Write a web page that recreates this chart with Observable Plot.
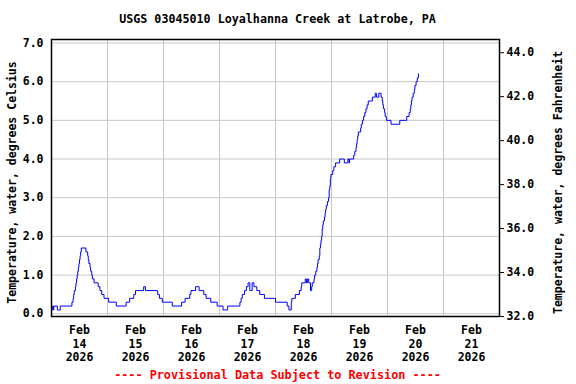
<!DOCTYPE html>
<html><head><meta charset="utf-8">
<script src="https://cdn.jsdelivr.net/npm/d3@7"></script>
<script src="https://cdn.jsdelivr.net/npm/@observablehq/plot@0.6"></script>
<style>html,body{margin:0;padding:0;background:#fff} svg{display:block}</style>
</head><body><div id="chart"></div>
<script>
const title = "USGS 03045010 Loyalhanna Creek at Latrobe, PA";
const footer = "---- Provisional Data Subject to Revision ----";
const yLabelLeft = "Temperature, water, degrees Celsius";
const yLabelRight = "Temperature, water, degrees Fahrenheit";

// 15-minute readings (only the instants where the value changes), UTC-naive local time
const times = [
"2026-02-14T00:00","2026-02-14T00:30","2026-02-14T00:45","2026-02-14T01:00","2026-02-14T02:30","2026-02-14T03:45",
"2026-02-14T08:45","2026-02-14T09:15","2026-02-14T09:30","2026-02-14T09:45","2026-02-14T10:15","2026-02-14T10:30",
"2026-02-14T10:45","2026-02-14T11:00","2026-02-14T11:15","2026-02-14T11:30","2026-02-14T11:45","2026-02-14T12:00",
"2026-02-14T12:15","2026-02-14T12:30","2026-02-14T12:45","2026-02-14T14:45","2026-02-14T15:30","2026-02-14T15:45",
"2026-02-14T16:00","2026-02-14T16:30","2026-02-14T16:45","2026-02-14T17:15","2026-02-14T17:30","2026-02-14T18:15",
"2026-02-14T20:00","2026-02-14T20:45","2026-02-14T21:30","2026-02-14T22:30","2026-02-15T00:30","2026-02-15T03:45",
"2026-02-15T08:00","2026-02-15T09:30","2026-02-15T11:15","2026-02-15T12:00","2026-02-15T15:30","2026-02-15T16:15",
"2026-02-15T21:30","2026-02-15T22:15","2026-02-15T23:30","2026-02-16T03:45","2026-02-16T07:45","2026-02-16T09:15",
"2026-02-16T11:15","2026-02-16T11:45","2026-02-16T13:45","2026-02-16T15:15","2026-02-16T17:15","2026-02-16T18:15",
"2026-02-16T20:15","2026-02-16T23:00","2026-02-17T01:30","2026-02-17T03:30","2026-02-17T08:45","2026-02-17T09:15",
"2026-02-17T09:45","2026-02-17T10:45","2026-02-17T11:30","2026-02-17T12:15","2026-02-17T13:00","2026-02-17T14:00",
"2026-02-17T14:45","2026-02-17T16:00","2026-02-17T17:15","2026-02-17T19:15","2026-02-18T00:00","2026-02-18T05:00",
"2026-02-18T05:45","2026-02-18T06:45","2026-02-18T07:00","2026-02-18T08:30","2026-02-18T10:15","2026-02-18T11:00",
"2026-02-18T11:15","2026-02-18T12:45","2026-02-18T13:15","2026-02-18T13:45","2026-02-18T14:15","2026-02-18T15:00",
"2026-02-18T15:30","2026-02-18T15:45","2026-02-18T16:30","2026-02-18T16:45","2026-02-18T17:15","2026-02-18T17:45",
"2026-02-18T18:00","2026-02-18T18:15","2026-02-18T18:45","2026-02-18T19:00","2026-02-18T19:15","2026-02-18T19:30",
"2026-02-18T19:45","2026-02-18T20:00","2026-02-18T20:15","2026-02-18T20:30","2026-02-18T21:00","2026-02-18T21:15",
"2026-02-18T21:30","2026-02-18T21:45","2026-02-18T22:15","2026-02-18T22:45","2026-02-18T23:00","2026-02-18T23:15",
"2026-02-18T23:30","2026-02-18T23:45","2026-02-19T00:30","2026-02-19T01:00","2026-02-19T01:45","2026-02-19T03:30",
"2026-02-19T05:30","2026-02-19T07:00","2026-02-19T07:30","2026-02-19T07:45","2026-02-19T09:30","2026-02-19T10:00",
"2026-02-19T10:30","2026-02-19T10:45","2026-02-19T11:00","2026-02-19T11:15","2026-02-19T11:30","2026-02-19T12:30",
"2026-02-19T12:45","2026-02-19T13:15","2026-02-19T13:45","2026-02-19T14:15","2026-02-19T14:45","2026-02-19T15:15",
"2026-02-19T15:45","2026-02-19T17:30","2026-02-19T18:45","2026-02-19T19:15","2026-02-19T20:15","2026-02-19T21:15",
"2026-02-19T21:45","2026-02-19T22:00","2026-02-19T22:15","2026-02-19T22:45","2026-02-19T23:00","2026-02-19T23:30",
"2026-02-20T01:30","2026-02-20T05:15","2026-02-20T08:15","2026-02-20T09:15","2026-02-20T09:45","2026-02-20T10:00",
"2026-02-20T10:15","2026-02-20T10:30","2026-02-20T11:00","2026-02-20T11:30","2026-02-20T11:45","2026-02-20T12:15",
"2026-02-20T12:45","2026-02-20T13:15","2026-02-20T13:30"
];
const tempsC = [
0.1,0.2,0.1,0.2,0.1,0.2,
0.3,0.4,0.5,0.6,0.7,0.8,
0.9,1.0,1.1,1.2,1.3,1.4,
1.5,1.6,1.7,1.6,1.5,1.4,
1.3,1.2,1.1,1.0,0.9,0.8,
0.7,0.6,0.5,0.4,0.3,0.2,
0.3,0.4,0.5,0.6,0.7,0.6,
0.5,0.4,0.3,0.2,0.3,0.4,
0.5,0.6,0.7,0.6,0.5,0.4,
0.3,0.2,0.1,0.2,0.3,0.4,
0.5,0.6,0.7,0.8,0.6,0.8,
0.7,0.6,0.5,0.4,0.3,0.2,
0.1,0.3,0.4,0.5,0.6,0.7,
0.8,0.9,0.8,0.9,0.8,0.6,
0.7,0.8,0.9,1.0,1.1,1.2,
1.3,1.4,1.5,1.7,1.8,1.9,
2.0,2.2,2.3,2.4,2.5,2.6,
2.7,2.8,2.9,3.0,3.2,3.3,
3.5,3.6,3.7,3.8,3.9,4.0,
3.9,4.0,3.9,4.0,4.1,4.2,
4.3,4.4,4.5,4.6,4.7,4.8,
4.9,5.0,5.1,5.2,5.3,5.4,
5.5,5.6,5.7,5.6,5.7,5.6,
5.5,5.4,5.3,5.2,5.1,5.0,
4.9,5.0,5.1,5.2,5.3,5.4,
5.5,5.6,5.7,5.8,5.9,6.0,
6.1,6.2,6.2
];

const xStart = "2026-02-14T00:00";
const xEnd = "2026-02-22T00:00";
const gridDays = ["2026-02-15","2026-02-16","2026-02-17","2026-02-18","2026-02-19","2026-02-20","2026-02-21"];
const labelDays = ["2026-02-14","2026-02-15","2026-02-16","2026-02-17","2026-02-18","2026-02-19","2026-02-20","2026-02-21"];
const dayLabels = ["Feb\n14\n2026","Feb\n15\n2026","Feb\n16\n2026","Feb\n17\n2026","Feb\n18\n2026","Feb\n19\n2026","Feb\n20\n2026","Feb\n21\n2026"];
const celsiusTicks = [0,1,2,3,4,5,6,7];
const fahrenheitTicks = [32,34,36,38,40,42,44];

const yDomain = [-0.07, 7.09];
const fDomain = [32, 44.6];   // right-hand scale spans the same frame height
const fToV = f => yDomain[0] + (f - fDomain[0]) / (fDomain[1] - fDomain[0]) * (yDomain[1] - yDomain[0]);
const vToF = v => fDomain[0] + (v - yDomain[0]) / (yDomain[1] - yDomain[0]) * (fDomain[1] - fDomain[0]);

const parse = s => new Date(s + (s.length === 10 ? "T00:00Z" : "Z"));
const data = times.map((t, i) => ({t: parse(t), v: tempsC[i]}));
const noon = labelDays.map(d => new Date(+parse(d) + 12 * 3600e3));

const font = "DejaVu Sans Mono";
const chart = Plot.plot({
  width: 576, height: 384,
  marginTop: 39, marginBottom: 68, marginLeft: 51, marginRight: 77,
  style: {fontFamily: font, fontSize: "11.5px", fontWeight: "bold", color: "black", background: "white"},
  x: {type: "utc", domain: [parse(xStart), parse(xEnd)]},
  y: {domain: yDomain, label: null},
  marks: [
    Plot.gridY(celsiusTicks, {stroke: "#c8c8c8", strokeOpacity: 1, strokeWidth: 1}),
    Plot.ruleX(gridDays.map(parse), {stroke: "#c8c8c8", strokeOpacity: 1, strokeWidth: 1}),
    Plot.line(data, {x: "t", y: "v", curve: "step-after", stroke: "#0000ff", strokeWidth: 1}),
    Plot.axisY({anchor: "left", ticks: celsiusTicks, tickFormat: d => d.toFixed(1), tickSize: 0, tickPadding: 8, label: null, fontSize: 11.5}),
    Plot.axisY({anchor: "right", ticks: fahrenheitTicks.map(fToV), tickFormat: v => vToF(v).toFixed(1), tickSize: 4, tickPadding: 3, label: null, fontSize: 11.5}),
    Plot.axisX({ticks: noon, tickFormat: d => dayLabels[noon.findIndex(n => +n === +d)], tickSize: 0, tickPadding: 8, lineHeight: 1.17, label: null, fontSize: 11.5}),
    Plot.text([yLabelLeft], {frameAnchor: "left", textAnchor: "middle", lineAnchor: "middle", rotate: -90, dx: -39, dy: 4.5, fontSize: 11.5, fontWeight: "bold"}),
    Plot.text([yLabelRight], {frameAnchor: "right", textAnchor: "middle", lineAnchor: "middle", rotate: -90, dx: 58.5, dy: 4.5, fontSize: 11.5, fontWeight: "bold"}),
    Plot.text([title], {frameAnchor: "top", lineAnchor: "middle", dx: 2, dy: -20, fontSize: 11.7, fontWeight: "bold"}),
    Plot.text([footer], {frameAnchor: "bottom", lineAnchor: "middle", dx: 2, dy: 59, fontSize: 11.8, fontWeight: "bold", fill: "#ff0000"}),
    Plot.frame({stroke: "black", strokeWidth: 1.5})
  ]
});
document.getElementById("chart").appendChild(chart);
</script>
</body></html>
